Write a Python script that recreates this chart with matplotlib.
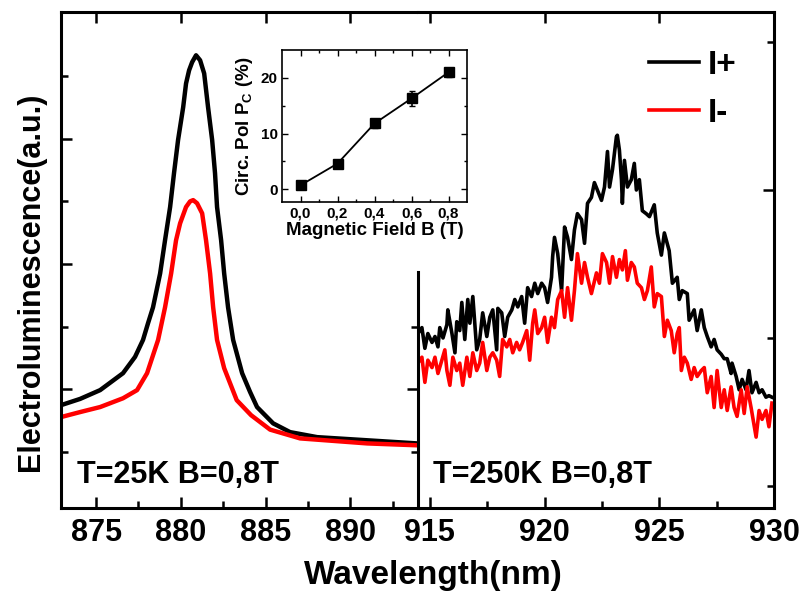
import numpy as np
import matplotlib
matplotlib.use('Agg')
import matplotlib.pyplot as plt

plt.rcParams['font.family'] = ['Liberation Sans', 'DejaVu Sans']
plt.rcParams['font.weight'] = 'bold'
plt.rcParams['mathtext.fontset'] = 'custom'
plt.rcParams['mathtext.bf'] = 'Liberation Sans:bold'
plt.rcParams['mathtext.rm'] = 'Liberation Sans:bold'

# ---- left panel: T=25K (wavelength nm, EL a.u.)
wl_25_plus = [872.93, 874.06, 875.24, 876.59, 877.30, 877.77, 878.07, 878.36, 878.78, 879.07,
              879.37, 879.60, 879.84, 880.14, 880.31, 880.49, 880.67, 880.90, 881.14, 881.38,
              881.61, 881.85, 882.02, 882.14, 882.38, 882.56, 882.79, 883.09, 883.62, 884.09,
              884.50, 885.45, 886.45, 888.05, 891.00, 893.95]
el_25_plus = [1.75, 1.85, 1.99, 2.26, 2.52, 2.79, 3.06, 3.31, 3.85, 4.38,
              4.91, 5.45, 5.98, 6.50, 6.88, 7.09, 7.22, 7.33, 7.25, 7.04,
              6.50, 5.98, 5.45, 4.91, 4.38, 3.85, 3.31, 2.79, 2.26, 1.96,
              1.72, 1.46, 1.32, 1.24, 1.19, 1.14]
wl_25_minus = [872.93, 874.06, 875.24, 876.59, 877.42, 878.01, 878.66, 879.07, 879.43, 879.72,
               879.96, 880.31, 880.55, 880.73, 880.96, 881.26, 881.49, 881.73, 881.91, 882.14,
               882.56, 883.30, 884.15, 885.27, 887.04, 891.00, 893.95]
el_25_minus = [1.56, 1.64, 1.72, 1.86, 1.99, 2.26, 2.79, 3.31, 3.85, 4.38,
               4.65, 4.91, 5.00, 5.02, 4.97, 4.81, 4.38, 3.85, 3.31, 2.79,
               2.34, 1.83, 1.59, 1.36, 1.22, 1.14, 1.11]

# ---- right panel: T=250K
wl_250_plus = [914.48, 914.65, 914.78, 914.91, 915.09, 915.22, 915.35, 915.43, 915.57, 915.74,
               915.78, 915.96, 916.09, 916.17, 916.30, 916.39, 916.52, 916.65, 916.74, 916.87,
               917.04, 917.17, 917.30, 917.48, 917.61, 917.74, 917.91, 917.96, 918.13, 918.26,
               918.39, 918.57, 918.70, 918.83, 919.00, 919.13, 919.26, 919.43, 919.57, 919.70,
               919.87, 920.00, 920.13, 920.30, 920.35, 920.43, 920.57, 920.74, 920.87, 921.00,
               921.17, 921.30, 921.43, 921.61, 921.74, 921.87, 922.04, 922.17, 922.30, 922.48,
               922.61, 922.74, 922.83, 922.96, 923.13, 923.17, 923.26, 923.35, 923.39, 923.48,
               923.61, 923.78, 923.91, 924.00, 924.13, 924.26, 924.43, 924.57, 924.78, 924.91,
               925.09, 925.22, 925.43, 925.57, 925.78, 925.87, 926.00, 926.22, 926.30, 926.52,
               926.65, 926.83, 926.96, 927.09, 927.26, 927.39, 927.52, 927.70, 927.83, 927.96,
               928.13, 928.17, 928.35, 928.48, 928.61, 928.78, 928.91, 929.04, 929.22, 929.35,
               929.48, 929.65, 929.78, 929.91]
el_250_plus = [2.03, 2.07, 1.93, 2.03, 1.97, 2.01, 1.94, 2.07, 2.00, 2.09,
               2.19, 2.03, 1.90, 2.11, 2.05, 2.24, 1.99, 2.26, 2.10, 2.28,
               1.92, 1.99, 2.17, 2.01, 2.14, 2.19, 1.92, 2.20, 2.17, 2.01,
               2.14, 2.19, 2.26, 2.21, 2.28, 2.10, 2.34, 2.28, 2.37, 2.30,
               2.37, 2.34, 2.24, 2.41, 2.55, 2.68, 2.57, 2.32, 2.75, 2.68,
               2.53, 2.73, 2.84, 2.80, 2.64, 2.91, 2.95, 3.05, 3.00, 2.93,
               3.02, 3.26, 3.02, 3.14, 3.36, 3.37, 3.27, 3.07, 2.91, 3.20,
               3.02, 3.07, 3.18, 3.00, 3.07, 2.86, 2.84, 2.82, 2.90, 2.71,
               2.56, 2.71, 2.59, 2.37, 2.41, 2.26, 2.32, 2.30, 2.12, 2.19,
               2.05, 2.19, 2.07, 2.01, 1.94, 1.99, 1.92, 1.89, 1.86, 1.86,
               1.76, 1.83, 1.74, 1.65, 1.72, 1.65, 1.78, 1.63, 1.70, 1.63,
               1.65, 1.60, 1.61, 1.60]
wl_250_minus = [914.48, 914.65, 914.78, 914.91, 915.09, 915.22, 915.35, 915.52, 915.65, 915.74,
                915.87, 916.00, 916.17, 916.30, 916.43, 916.61, 916.74, 916.87, 917.04, 917.17,
                917.30, 917.48, 917.61, 917.74, 917.91, 918.04, 918.17, 918.35, 918.48, 918.61,
                918.78, 918.91, 919.04, 919.22, 919.35, 919.48, 919.57, 919.70, 919.87, 920.00,
                920.13, 920.30, 920.43, 920.57, 920.74, 920.87, 921.00, 921.17, 921.30, 921.43,
                921.61, 921.74, 921.87, 922.04, 922.26, 922.39, 922.52, 922.70, 922.83, 922.96,
                923.13, 923.26, 923.39, 923.52, 923.61, 923.78, 923.91, 924.04, 924.22, 924.35,
                924.48, 924.65, 924.78, 924.91, 925.09, 925.22, 925.35, 925.52, 925.65, 925.78,
                925.87, 925.96, 926.09, 926.22, 926.39, 926.52, 926.65, 926.83, 926.96, 927.09,
                927.26, 927.39, 927.52, 927.70, 927.83, 927.96, 928.13, 928.26, 928.39, 928.57,
                928.70, 928.83, 929.00, 929.22, 929.35, 929.48, 929.65, 929.78, 929.91]
el_250_minus = [1.83, 1.87, 1.70, 1.85, 1.80, 1.87, 1.76, 1.85, 1.92, 1.78,
                1.68, 1.87, 1.78, 1.83, 1.68, 1.87, 1.74, 1.90, 1.78, 1.83,
                1.97, 1.78, 1.87, 1.90, 1.85, 1.74, 1.99, 1.94, 1.99, 1.90,
                1.97, 1.92, 1.97, 2.05, 1.85, 2.10, 2.19, 2.03, 2.07, 2.14,
                1.97, 2.14, 2.07, 2.26, 2.32, 2.14, 2.34, 2.12, 2.32, 2.57,
                2.37, 2.51, 2.41, 2.30, 2.44, 2.37, 2.57, 2.51, 2.37, 2.55,
                2.41, 2.53, 2.46, 2.59, 2.39, 2.51, 2.48, 2.37, 2.34, 2.26,
                2.32, 2.48, 2.21, 2.30, 2.28, 2.01, 2.12, 2.05, 1.90, 2.03,
                2.07, 1.78, 1.87, 1.83, 1.72, 1.80, 1.74, 1.78, 1.80, 1.63,
                1.74, 1.53, 1.78, 1.53, 1.65, 1.51, 1.67, 1.53, 1.47, 1.65,
                1.49, 1.67, 1.53, 1.33, 1.51, 1.45, 1.51, 1.40, 1.56]

# ---- inset: circular polarization vs field
field_B = [0.0, 0.2, 0.4, 0.6, 0.8]
pol_pc = [0.7, 4.6, 11.8, 16.3, 21.0]
pol_err = [0.6, 0.7, 0.8, 1.4, 0.8]
field_ticks = [0.0, 0.2, 0.4, 0.6, 0.8]
field_labels = ['0,0', '0,2', '0,4', '0,6', '0,8']

fig = plt.figure(figsize=(8.02, 6.04), dpi=100)
SP = 2.2
ax_l = fig.add_axes([61/802, 1-508/604, 357/802, 496/604])
ax_r = fig.add_axes([418/802, 1-508/604, 356/802, 496/604])

ax_l.plot(wl_25_plus, el_25_plus, color='black', lw=3.2, solid_joinstyle='round')
ax_l.plot(wl_25_minus, el_25_minus, color='#ff0000', lw=3.2, solid_joinstyle='round')
ax_r.plot(wl_250_plus, el_250_plus, color='black', lw=2.6, label='I+')
ax_r.plot(wl_250_minus, el_250_minus, color='#ff0000', lw=2.6, label='I-')

ax_l.set_xlim(872.93, 894.0)
ax_l.set_ylim(0.11, 8.02)
ax_r.set_xlim(914.48, 930.0)
ax_r.set_ylim(0.851, 4.203)

for ax in (ax_l, ax_r):
    for s in ax.spines.values():
        s.set_linewidth(SP)
    ax.tick_params(which='both', direction='in', width=1.8, labelsize=22, pad=7)
    ax.tick_params(which='major', length=8)
    ax.tick_params(which='minor', length=5)
    ax.tick_params(axis='x', top=True)

ax_l.spines['right'].set_visible(False)
ax_l.set_xticks([875, 880, 885, 890])
ax_l.set_xticks([877.5, 882.5, 887.5, 892.5], minor=True)
ax_l.set_yticks([2, 4, 6])
ax_l.set_yticks([1, 3, 5, 7], minor=True)
ax_l.tick_params(axis='y', which='both', right=True, labelleft=False)
# only the lower ticks show on the divider line
for t in ax_l.yaxis.get_major_ticks()[1:]:
    t.tick2line.set_visible(False)
for t in ax_l.yaxis.get_minor_ticks()[2:]:
    t.tick2line.set_visible(False)

ax_r.spines['left'].set_bounds(0.851, 2.446)
ax_r.set_xticks([915, 920, 925, 930])
ax_r.set_xticks([917.5, 922.5, 927.5], minor=True)
ax_r.set_yticks([3])
ax_r.set_yticks([1, 2, 4], minor=True)
ax_r.tick_params(axis='y', which='both', left=False, right=True, labelleft=False)

ax_l.text(0.045, 0.05, 'T=25K B=0,8T', transform=ax_l.transAxes, fontsize=22,
          fontweight='bold', va='baseline')
ax_r.text(0.042, 0.05, 'T=250K B=0,8T', transform=ax_r.transAxes, fontsize=22,
          fontweight='bold', va='baseline')

fig.text(433/802, 1-560/604, 'Wavelength(nm)', ha='center', va='top', fontsize=24,
         fontweight='bold')
fig.text(31/802, 1-282/604, 'Electroluminescence(a.u.)', ha='center', va='center',
         rotation=90, fontsize=22, fontweight='bold')

ax_r.legend(loc='upper right', bbox_to_anchor=(736/802, 1-50/604),
            bbox_transform=fig.transFigure, frameon=False, fontsize=24,
            handlelength=1.5, handletextpad=0.25, labelspacing=0.5,
            borderpad=0, borderaxespad=0)

# inset
ax_in = fig.add_axes([282/802, 1-202/604, 185/802, 152/604])
ax_in.errorbar(field_B, pol_pc, yerr=pol_err, color='black', lw=1.3, marker='s',
               markersize=7, capsize=2, elinewidth=1.2)
ax_in.set_xlim(-0.1, 0.9)
ax_in.set_ylim(-2.3, 25)
ax_in.set_xticks(field_ticks, field_labels)
ax_in.set_xticks([0.1, 0.3, 0.5, 0.7], minor=True)
ax_in.set_yticks([0, 10, 20])
ax_in.set_yticks([5, 15], minor=True)
for s in ax_in.spines.values():
    s.set_linewidth(1.2)
ax_in.tick_params(which='both', direction='in', top=True, right=True, labelsize=11,
                  width=1, pad=3)
ax_in.tick_params(which='major', length=4)
ax_in.tick_params(which='minor', length=2.5)
ax_in.set_xlabel('Magnetic Field B (T)', fontsize=13.5, fontweight='bold', labelpad=1)
ax_in.set_ylabel(r'Circ. Pol P$_{\mathbf{C}}$ (%)', fontsize=13.5, fontweight='bold',
                 labelpad=4)

fig.savefig('out.png', dpi=100)
